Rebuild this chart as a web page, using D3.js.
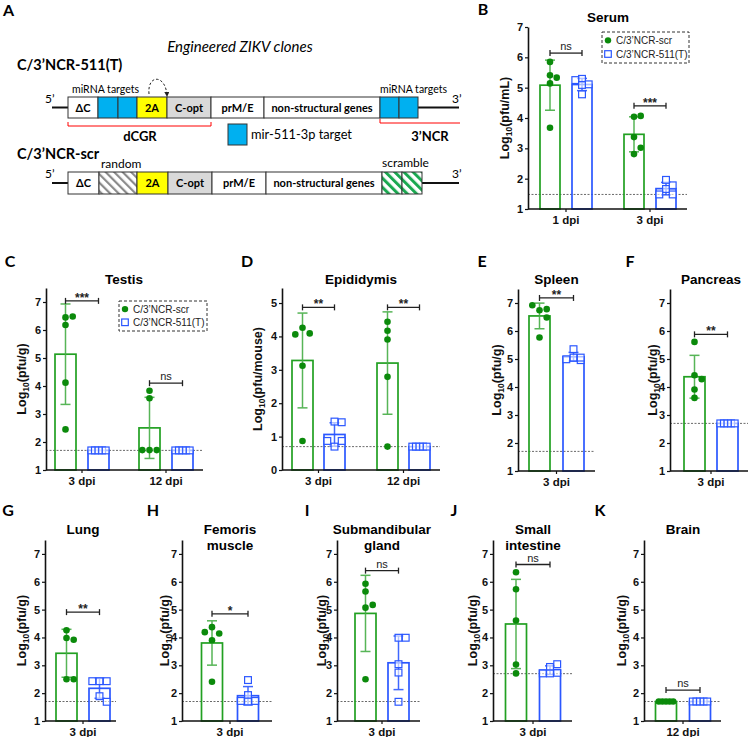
<!DOCTYPE html>
<html><head><meta charset="utf-8">
<script src="https://cdn.jsdelivr.net/npm/d3@7"></script>
<style>body{margin:0;background:#fff} svg{display:block}</style>
</head><body><svg id="fig" width="750" height="737"></svg>
<script>
// ================= DATA =================
// Panel A schematic (segment labels, kinds, relative lengths)
const clone1Labels = ["ΔC","","","2A","C-opt","prM/E","non-structural genes","",""];
const clone1Kinds  = ["white","blue","blue","yellow","gray","white","white","blue","blue"];
const clone1Len    = [30,20,19,30,44,53,116,19,19];
const clone2Labels = ["ΔC","","2A","C-opt","prM/E","non-structural genes","",""];
const clone2Kinds  = ["white","hatchGray","yellow","gray","white","white","hatchGreen","hatchGreen"];
const clone2Len    = [31,38,31,44,54,116,20,20];

const seriesNames = ["C/3’NCR-scr","C/3’NCR-511(T)"];

// B Serum
const serumGroups = ["1 dpi","3 dpi"];
const serumScr = [[5.85,5.14,3.68,5.41,5.33],[3.37,2.81,3.02,4.04,4.07]];
const serumT   = [[5.29,4.78,5.11,5.25,5.09],[1.66,1.78,1.96,1.48,1.48]];
const serumSig = ["ns","***"];
const serumSigY = [6.14,4.40];
// C Testis
const testisGroups = ["3 dpi","12 dpi"];
const testisScr = [[6.18,4.12,2.45,6.45,6.48],[1.71,1.71,1.71,3.83,3.56]];
const testisT   = [[1.7,1.7,1.7,1.7,1.7],[1.7,1.7,1.7,1.7,1.7]];
const testisSig = ["***","ns"];
const testisSigY = [7.04,4.10];
// D Epididymis
const epiGroups = ["3 dpi","12 dpi"];
const epiScr = [[4.26,3.12,0.87,4.09,4.06],[4.44,4.17,3.91,2.79,0.70]];
const epiT   = [[0.70,1.45,0.87,1.43,0.87],[0.7,0.7,0.7,0.7,0.7]];
const epiSig = ["**","**"];
const epiSigY = [4.87,4.87];
// E Spleen
const spleenScr = [[6.74,6.48,5.77,6.78,6.92]];
const spleenT   = [[5.35,5.05,4.96,4.99,5.05]];
const spleenSigY = [7.18];
// F Pancreas
const pancScr = [[5.61,3.91,3.61,4.42,4.28]];
const pancT   = [[2.7,2.7,2.7,2.7,2.7]];
const pancSigY = [5.88];
// G Lung
const lungScr = [[4.26,3.98,3.92,2.50,2.50]];
const lungT   = [[2.43,2.43,2.43,1.89,1.69]];
const lungSigY = [4.91];
// H Femoris muscle
const femScr = [[4.37,3.90,2.41,4.14,4.19]];
const femT   = [[2.47,1.93,1.72,1.72,1.70]];
const femSigY = [4.85];
// I Submandibular gland
const subScr = [[5.93,5.65,2.50,5.07,5.17]];
const subT   = [[3.04,2.74,1.69,3.99,3.99]];
const subSigY = [6.40];
// J Small intestine
const intScr = [[6.34,5.73,4.61,3.03,2.71]];
const intT   = [[2.94,3.04,2.73,2.71,2.71]];
const intSigY = [6.62];
// K Brain
const brainScr = [[1.7,1.7,1.7,1.7,1.7]];
const brainT   = [[1.7,1.7,1.7,1.7,1.7]];
const brainSigY = [2.11];

const ticks1to7 = [1,2,3,4,5,6,7];
const ticks0to5 = [0,1,2,3,4,5];

// ================= STYLE =================
const svg = d3.select("#fig");
const GREEN_BAR = "#22a022", GREEN_DOT = "#0b8a0b", GREEN_ERR = "#45ad45", BLUE = "#2b57ff";
const AX_FONT = "'Liberation Sans', Arial, sans-serif";
const CAL_FONT = "Lato, 'Open Sans', sans-serif";

// ================= PANEL A =================
(function panelA(){
  const g = svg.append("g");
  const defs = svg.append("defs");
  const pg = defs.append("pattern").attr("id","hatchGray").attr("patternUnits","userSpaceOnUse")
    .attr("width",6).attr("height",6).attr("patternTransform","rotate(-45)");
  pg.append("rect").attr("width",6).attr("height",6).attr("fill","#fff");
  pg.append("rect").attr("width",2.2).attr("height",6).attr("fill","#8a8a8a");
  const pgr = defs.append("pattern").attr("id","hatchGreen").attr("patternUnits","userSpaceOnUse")
    .attr("width",6.5).attr("height",6.5).attr("patternTransform","rotate(-45)");
  pgr.append("rect").attr("width",6.5).attr("height",6.5).attr("fill","#fff");
  pgr.append("rect").attr("width",3).attr("height",6.5).attr("fill","#1aa850");
  const mk = defs.append("marker").attr("id","arrowHead").attr("viewBox","0 0 10 10").attr("refX",8).attr("refY",5)
    .attr("markerWidth",5).attr("markerHeight",5).attr("orient","auto");
  mk.append("path").attr("d","M0,0L10,5L0,10z").attr("fill","#222");

  const fills = {white:"#fff", blue:"#00b0f0", yellow:"#ffff00", gray:"#d9d9d9",
                 hatchGray:"url(#hatchGray)", hatchGreen:"url(#hatchGreen)"};

  g.append("text").attr("x",3).attr("y",16).text("A").attr("font-family",CAL_FONT).attr("font-weight",700).attr("font-size",16);
  g.append("text").attr("x",240).attr("y",52).attr("text-anchor","middle").text("Engineered ZIKV clones")
    .attr("font-family",CAL_FONT).attr("font-style","italic").attr("font-size",15);

  function row(labels, kinds, lens, top, h){
    const cum = [0]; lens.forEach(l=>cum.push(cum[cum.length-1]+l));
    const x = d3.scaleLinear().domain([0, cum[cum.length-1]]).range([68, 68+cum[cum.length-1]]);
    const cy = top + h/2;
    g.append("line").attr("x1",52).attr("x2",x(0)).attr("y1",cy).attr("y2",cy).attr("stroke","#111").attr("stroke-width",2);
    g.append("line").attr("x1",x(cum[cum.length-1])).attr("x2",459).attr("y1",cy).attr("y2",cy).attr("stroke","#111").attr("stroke-width",2);
    labels.forEach((lab,i)=>{
      g.append("rect").attr("x",x(cum[i])).attr("y",top).attr("width",x(cum[i+1])-x(cum[i])).attr("height",h)
        .attr("fill",fills[kinds[i]]).attr("stroke","#333").attr("stroke-width",1);
      if(lab) g.append("text").attr("x",(x(cum[i])+x(cum[i+1]))/2).attr("y",cy+4).attr("text-anchor","middle")
        .text(lab).attr("font-family",CAL_FONT).attr("font-weight",700).attr("font-size",11);
    });
    g.append("text").attr("x",45).attr("y",top+6).text("5’").attr("font-family",CAL_FONT).attr("font-size",12);
    g.append("text").attr("x",452).attr("y",top+6).text("3’").attr("font-family",CAL_FONT).attr("font-size",12);
    return {x, cum};
  }
  g.append("text").attr("x",17).attr("y",70).text("C/3’NCR-511(T)").attr("font-family",CAL_FONT).attr("font-weight",700).attr("font-size",14.5);
  const r1 = row(clone1Labels, clone1Kinds, clone1Len, 97, 21);
  g.append("text").attr("x",17).attr("y",159).text("C/3’NCR-scr").attr("font-family",CAL_FONT).attr("font-weight",700).attr("font-size",14.5);
  const r2 = row(clone2Labels, clone2Kinds, clone2Len, 172, 22);

  const t = (x,y,s,opt={})=>g.append("text").attr("x",x).attr("y",y).text(s).attr("font-family",CAL_FONT)
      .attr("font-size",opt.size||11).attr("font-weight",opt.w||400).attr("text-anchor",opt.a||"start");
  t(72,93,"miRNA targets",{size:10.5});
  t(r1.x(r1.cum[7]),93,"miRNA targets",{size:10.5});
  t(101,168,"random",{size:12});
  t(r2.x(r2.cum[6]),167,"scramble",{size:12});
  // curved dashed arrow
  g.append("path").attr("d","M149,94 C147,74 166,74 167,96").attr("fill","none").attr("stroke","#222")
    .attr("stroke-width",1).attr("stroke-dasharray","2.5,2").attr("marker-end","url(#arrowHead)");
  // red brackets
  g.append("path").attr("d",`M${r1.x(0)},122 V126 H${r1.x(r1.cum[5])} V122`).attr("fill","none").attr("stroke","#f00").attr("stroke-width",1);
  g.append("path").attr("d",`M${r1.x(r1.cum[7])},119 V123 H460`).attr("fill","none").attr("stroke","#f00").attr("stroke-width",1);
  t(140,141,"dCGR",{size:13,w:700,a:"middle"});
  t(430,141,"3’NCR",{size:13,w:700,a:"middle"});
  g.append("rect").attr("x",228).attr("y",124).attr("width",19).attr("height",21).attr("fill","#00b0f0").attr("stroke","#333");
  t(251,139,"mir-511-3p target",{size:12.8});
})();

// ================= BAR PANELS =================
function swarm(vals, y, xc, bw){
  const lim = bw/2 - 3.3;
  if (d3.max(vals) - d3.min(vals) < 0.02){
    const n = vals.length;
    return vals.map((v,i)=>({v, x: xc - lim + (n>1 ? 2*lim*i/(n-1) : lim), y: y(v)}));
  }
  const step = 7.5, diam = 7.5, placed = [];
  vals.forEach(v=>{
    const py = y(v);
    const cands = [0, step, -step];
    let best = null, bestD = -1;
    for (const off of cands){
      const md = placed.length ? d3.min(placed, p=>Math.hypot(p.off-off, p.py-py)) : 1e9;
      if (md >= diam){ best = off; break; }
      if (md > bestD){ bestD = md; best = off; }
    }
    placed.push({v, py, off: best});
  });
  return placed.map(p=>({v:p.v, x: xc + Math.max(-lim, Math.min(lim, p.off)), y: p.py}));
}

function drawPanel(p){
  const g = svg.append("g");
  const y = d3.scaleLinear().domain(p.yDomain).range(p.yRange);
  const xg = d3.scaleBand().domain(p.groups).range(p.band).padding(0);
  const c = xg.bandwidth()/2;
  const xs = d3.scaleBand().domain(["scr","T"]).range([c - p.d - p.w/2, c + p.d + p.w/2])
    .paddingInner((2*p.d - p.w)/(2*p.d)).paddingOuter(0);
  const base = p.yRange[0];
  const bw = xs.bandwidth();

  // letter + title
  g.append("text").attr("x",p.letter[1]).attr("y",p.letter[2]).attr("text-anchor","middle")
    .text(p.letter[0]).attr("font-family",CAL_FONT).attr("font-weight",700).attr("font-size",16);
  const tc = (p.band[0]+p.band[1])/2 + (p.titleDx||0);
  p.title.forEach((s,i)=>g.append("text").attr("x",tc).attr("y",p.titleY + i*16).attr("text-anchor","middle")
    .text(s).attr("font-family",AX_FONT).attr("font-weight",700).attr("font-size",13.5));

  // LOD dotted line
  g.append("line").attr("x1",p.axisX[0]).attr("x2",p.axisX[1]).attr("y1",y(p.lod)).attr("y2",y(p.lod))
    .attr("stroke","#444").attr("stroke-width",0.8).attr("stroke-dasharray","2,1.5");

  p.groups.forEach((grp,gi)=>{
    [["scr",p.scr[gi]],["T",p.t[gi]]].forEach(([s,vals])=>{
      const xl = xg(grp) + xs(s), xc = xl + bw/2;
      const m = d3.mean(vals), sd = d3.deviation(vals) || 0;
      const col = s==="scr" ? GREEN_BAR : BLUE;
      g.append("rect").attr("x",xl).attr("y",y(m)).attr("width",bw).attr("height",base - y(m))
        .attr("fill","none").attr("stroke",col).attr("stroke-width",1.7);
      if (sd > 0.01){
        const ec = s==="scr" ? GREEN_ERR : BLUE;
        const eg = g.append("g").attr("stroke",ec).attr("stroke-width",1.5).attr("opacity",0.9);
        eg.append("line").attr("x1",xc).attr("x2",xc).attr("y1",y(m-sd)).attr("y2",y(m+sd));
        [m-sd, m+sd].forEach(v=>eg.append("line").attr("x1",xc-5).attr("x2",xc+5).attr("y1",y(v)).attr("y2",y(v)));
      }
      const pts = swarm(vals, y, xc, bw);
      if (s==="scr"){
        g.selectAll(null).data(pts).enter().append("circle").attr("cx",d=>d.x).attr("cy",d=>d.y).attr("r",3.3).attr("fill",GREEN_DOT);
      } else {
        g.selectAll(null).data(pts).enter().append("rect").attr("x",d=>d.x-3.4).attr("y",d=>d.y-3.4)
          .attr("width",6.8).attr("height",6.8).attr("fill","#fff").attr("fill-opacity",0.6).attr("stroke",BLUE).attr("stroke-width",1.2);
      }
    });
    // significance bracket
    const x1 = xg(grp) + xs("scr") + bw/2, x2 = xg(grp) + xs("T") + bw/2, yy = y(p.sigY[gi]);
    const sg = g.append("g").attr("stroke","#222").attr("stroke-width",1.3);
    sg.append("line").attr("x1",x1).attr("x2",x2).attr("y1",yy).attr("y2",yy);
    sg.append("line").attr("x1",x1).attr("x2",x1).attr("y1",yy-3).attr("y2",yy+3);
    sg.append("line").attr("x1",x2).attr("x2",x2).attr("y1",yy-3).attr("y2",yy+3);
    const lab = p.sig[gi];
    g.append("text").attr("x",(x1+x2)/2).attr("y", lab==="ns" ? yy-3 : yy+1).attr("text-anchor","middle")
      .text(lab).attr("font-family",AX_FONT).attr("font-weight", lab==="ns"?400:700).attr("font-size", lab==="ns"?11:12)
      .attr("fill","#222");
  });

  // y axis
  const ya = g.append("g").attr("transform",`translate(${p.axisX[0]},0)`)
    .call(d3.axisLeft(y).tickValues(p.ticks).tickFormat(d3.format("d")).tickSize(3).tickSizeOuter(0).tickPadding(2));
  ya.select(".domain").attr("stroke","#111").attr("stroke-width",1.6);
  ya.selectAll(".tick line").attr("stroke","#111").attr("stroke-width",1.2);
  ya.selectAll(".tick text").attr("font-family",AX_FONT).attr("font-weight",700).attr("font-size",11).attr("fill","#111");
  // x axis
  g.append("line").attr("x1",p.axisX[0]).attr("x2",p.axisX[1]).attr("y1",base).attr("y2",base).attr("stroke","#111").attr("stroke-width",1.6);
  p.groups.forEach(grp=>{
    const cx = xg(grp) + c;
    g.append("line").attr("x1",cx).attr("x2",cx).attr("y1",base).attr("y2",base+3).attr("stroke","#111").attr("stroke-width",1.2);
    g.append("text").attr("x",cx).attr("y",base+15).attr("text-anchor","middle").text(grp)
      .attr("font-family",AX_FONT).attr("font-weight",700).attr("font-size",11.5).attr("fill","#111");
  });
  // y label
  const ymid = (p.yRange[0]+p.yRange[1])/2;
  const yl = g.append("text").attr("transform",`translate(${p.labelX},${ymid}) rotate(-90)`).attr("text-anchor","middle")
    .attr("dy","0.35em").attr("font-family",AX_FONT).attr("font-weight",700).attr("font-size",12.5).attr("fill","#111");
  yl.append("tspan").text("Log");
  yl.append("tspan").text("10").attr("font-size",8.5).attr("dy",3);
  yl.append("tspan").text("(" + p.unit + ")").attr("dy",-3);

  // legend
  if (p.legend){
    const L = p.legend;
    g.append("rect").attr("x",L.x).attr("y",L.y).attr("width",L.w).attr("height",L.h).attr("fill","#fff")
      .attr("stroke","#333").attr("stroke-width",1).attr("stroke-dasharray","3,2");
    const r1 = L.y + L.h*0.27, r2 = L.y + L.h*0.71;
    g.append("circle").attr("cx",L.x+6).attr("cy",r1).attr("r",3.2).attr("fill",GREEN_DOT);
    g.append("rect").attr("x",L.x+2.7).attr("y",r2-3.3).attr("width",6.6).attr("height",6.6).attr("fill","#fff").attr("stroke",BLUE).attr("stroke-width",1.2);
    [r1,r2].forEach((ry,i)=>g.append("text").attr("x",L.x+14).attr("y",ry).attr("dy","0.35em").text(seriesNames[i])
      .attr("font-family",AX_FONT).attr("font-size",10).attr("fill","#222"));
  }
}

const row2Y = [470,288], row3Y = [721,540];
const panels = [
  {letter:["B",483,15], title:["Serum"], titleY:22, groups:serumGroups, scr:serumScr, t:serumT, sig:serumSig, sigY:serumSigY,
   lod:1.48, yDomain:[1,7], yRange:[209,27], ticks:ticks1to7, axisX:[528,687], band:[524,692], d:16, w:20, unit:"pfu/mL", labelX:505,
   legend:{x:602,y:32,w:87,h:31}},
  {letter:["C",10,267], title:["Testis"], titleY:284, groups:testisGroups, scr:testisScr, t:testisT, sig:testisSig, sigY:testisSigY,
   lod:1.7, yDomain:[1,7.5], yRange:row2Y, ticks:ticks1to7, axisX:[46,203], band:[40,208], d:16.5, w:21, unit:"pfu/g", labelX:22,
   legend:{x:119,y:301,w:88,h:30}},
  {letter:["D",247,267], title:["Epididymis"], titleY:284, groups:epiGroups, scr:epiScr, t:epiT, sig:epiSig, sigY:epiSigY,
   lod:0.7, yDomain:[0,5.45], yRange:row2Y, ticks:ticks0to5, axisX:[282,440], band:[276,446], d:16, w:21, unit:"pfu/mouse", labelX:258},
  {letter:["E",482,267], title:["Spleen"], titleY:284, groups:["3 dpi"], scr:spleenScr, t:spleenT, sig:["**"], sigY:spleenSigY,
   lod:1.7, yDomain:[1,7.5], yRange:[471,289], ticks:ticks1to7, axisX:[518,595], band:[518,595], d:17, w:21, unit:"pfu/g", labelX:497},
  {letter:["F",630,267], title:["Pancreas"], titleY:284, groups:["3 dpi"], scr:pancScr, t:pancT, sig:["**"], sigY:pancSigY,
   lod:2.7, yDomain:[1,7.5], yRange:[471,289], ticks:ticks1to7, axisX:[670,748], band:[672,750], d:16.5, w:21, unit:"pfu/g", labelX:653},
  {letter:["G",8,516], title:["Lung"], titleY:534, groups:["3 dpi"], scr:lungScr, t:lungT, sig:["**"], sigY:lungSigY,
   lod:1.7, yDomain:[1,7.5], yRange:row3Y, ticks:ticks1to7, axisX:[45,116], band:[44,122], d:16.5, w:21, unit:"pfu/g", labelX:22},
  {letter:["H",153,516], title:["Femoris","muscle"], titleY:534, groups:["3 dpi"], scr:femScr, t:femT, sig:["*"], sigY:femSigY,
   lod:1.7, yDomain:[1,7.5], yRange:row3Y, ticks:ticks1to7, axisX:[182,272], band:[191,269], d:18, w:21, unit:"pfu/g", labelX:165},
  {letter:["I",307,516], title:["Submandibular","gland"], titleY:534, groups:["3 dpi"], scr:subScr, t:subT, sig:["ns"], sigY:subSigY,
   lod:1.7, yDomain:[1,7.5], yRange:row3Y, ticks:ticks1to7, axisX:[337,420], band:[343,421], d:16.5, w:21, unit:"pfu/g", labelX:322},
  {letter:["J",454,516], title:["Small","intestine"], titleY:534, groups:["3 dpi"], scr:intScr, t:intT, sig:["ns"], sigY:intSigY,
   lod:2.7, yDomain:[1,7.5], yRange:row3Y, ticks:ticks1to7, axisX:[493,572], band:[494,572], d:17, w:21, unit:"pfu/g", labelX:473},
  {letter:["K",600,516], title:["Brain"], titleY:534, groups:["12 dpi"], scr:brainScr, t:brainT, sig:["ns"], sigY:brainSigY,
   lod:1.7, yDomain:[1,7.5], yRange:row3Y, ticks:ticks1to7, axisX:[644,721], band:[644,722], d:17, w:21, unit:"pfu/g", labelX:622}
];
panels.forEach(drawPanel);
</script>
</body></html>
